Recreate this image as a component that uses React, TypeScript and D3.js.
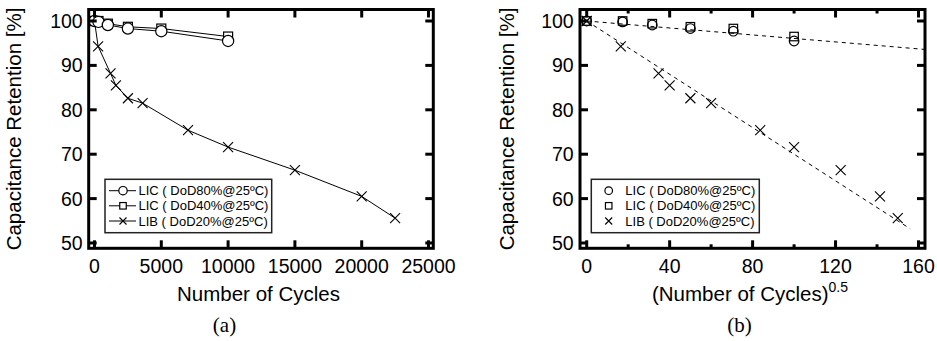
import React from 'react';
import * as d3 from 'd3';

// ---- data ----
const licCycles = [0, 300, 1000, 2500, 5000, 10000];
const lic80 = [100, 99.8, 99.1, 98.3, 97.7, 95.5];
const lic40 = [100, 100, 99.4, 98.7, 98.3, 96.5];
const libCycles = [0, 270, 1200, 1600, 2500, 3600, 7000, 10000, 15000, 20000, 22500];
const lib20 = [100, 94.3, 88.2, 85.5, 82.6, 81.5, 75.4, 71.6, 66.4, 60.5, 55.6];
const xTicksA = [0, 5000, 10000, 15000, 20000, 25000];
const xTicksB = [0, 40, 80, 120, 160];
const xMinorB = [20, 60, 100, 140];
const yTicks = [50, 60, 70, 80, 90, 100];
const legendLabels = ['LIC ( DoD80%@25ºC)', 'LIC ( DoD40%@25ºC)', 'LIB ( DoD20%@25ºC)'];
const fitLicX = [0, 163];
const fitLicY = [100, 93.6];
const fitLibX = [0, 156];
const fitLibY = [100, 53.2];

const FONT = '"Liberation Sans", Arial, sans-serif';
const SERIF = '"Liberation Serif", "Times New Roman", serif';

const yScale = d3.scaleLinear().domain([50, 100]).range([243, 21]);
const xA = d3.scaleLinear().domain([0, 25000]).range([94.5, 428.5]);
const xB = d3.scaleLinear().domain([0, 160]).range([586.7, 918.5]);

const frameTop = 9.5;
const frameBottom = 248.3;

type MProps = { x: number; y: number; s: number; fill?: string; sw?: number };
const Circle = ({ x, y, s, fill = 'none', sw = 1.2 }: MProps) => (
  <circle cx={x} cy={y} r={s} fill={fill} stroke="#000" strokeWidth={sw} />
);
const Square = ({ x, y, s, fill = 'none', sw = 1.2 }: MProps) => (
  <rect x={x - s / 2} y={y - s / 2} width={s} height={s} fill={fill} stroke="#000" strokeWidth={sw} />
);
const Cross = ({ x, y, s, sw = 1.1 }: MProps) => (
  <path d={`M${x - s},${y - s}L${x + s},${y + s}M${x - s},${y + s}L${x + s},${y - s}`} stroke="#000" strokeWidth={sw} fill="none" />
);

function Frame({ left, right, xs, xticks, minor }: { left: number; right: number; xs: d3.ScaleLinear<number, number>; xticks: number[]; minor?: number[] }) {
  const L = 8;
  const l = 4;
  return (
    <g>
      <rect x={left} y={frameTop} width={right - left} height={frameBottom - frameTop} fill="none" stroke="#000" strokeWidth={3} />
      {xticks.map((t) => (
        <g key={'x' + t}>
          <line x1={xs(t)} x2={xs(t)} y1={frameBottom} y2={frameBottom - L} stroke="#000" strokeWidth={3} />
          <line x1={xs(t)} x2={xs(t)} y1={frameTop} y2={frameTop + L} stroke="#000" strokeWidth={3} />
        </g>
      ))}
      {(minor || []).map((t) => (
        <g key={'m' + t}>
          <line x1={xs(t)} x2={xs(t)} y1={frameBottom} y2={frameBottom - l} stroke="#000" strokeWidth={3} />
          <line x1={xs(t)} x2={xs(t)} y1={frameTop} y2={frameTop + l} stroke="#000" strokeWidth={3} />
        </g>
      ))}
      {yTicks.map((t) => (
        <g key={'y' + t}>
          <line x1={left} x2={left + L} y1={yScale(t)} y2={yScale(t)} stroke="#000" strokeWidth={3} />
          <line x1={right} x2={right - L} y1={yScale(t)} y2={yScale(t)} stroke="#000" strokeWidth={3} />
        </g>
      ))}
    </g>
  );
}

export default function App() {
  const lineA = (xsData: number[], ys: number[]) =>
    d3.line<number>().x((_, i) => xA(xsData[i])).y((d) => yScale(d))(ys) || '';
  const lineB = (xsData: number[], ys: number[]) =>
    d3.line<number>().x((_, i) => xB(xsData[i])).y((d) => yScale(d))(ys) || '';

  const rowsY = [190.7, 205.8, 221];

  return (
    <svg width={937} height={341} style={{ position: 'absolute', left: 0, top: 0, background: '#fff' }} fontFamily={FONT}>
      <rect x={0} y={0} width={937} height={341} fill="#fff" />
      {/* ---------- Panel (a) ---------- */}
      <g>
        <path d={lineA(libCycles, lib20)} fill="none" stroke="#000" strokeWidth={1} />
        {libCycles.map((c, i) => (
          <Cross key={'la' + i} x={xA(c)} y={yScale(lib20[i])} s={5} />
        ))}
        <path d={lineA(licCycles, lic40)} fill="none" stroke="#000" strokeWidth={1} />
        {licCycles.map((c, i) => (
          <Square key={'sa' + i} x={xA(c)} y={yScale(lic40[i])} s={9} fill="#fff" />
        ))}
        <path d={lineA(licCycles, lic80)} fill="none" stroke="#000" strokeWidth={1} />
        {licCycles.map((c, i) => (
          <Circle key={'ca' + i} x={xA(c)} y={yScale(lic80[i])} s={5.6} fill="#fff" />
        ))}
        <Frame left={88.7} right={433.3} xs={xA} xticks={xTicksA} />
        {xTicksA.map((t) => (
          <text key={'xla' + t} x={xA(t)} y={272.6} fontSize={19.5} textAnchor="middle">{t}</text>
        ))}
        {yTicks.map((t) => (
          <text key={'yla' + t} x={82.7} y={yScale(t) + 7} fontSize={19.5} textAnchor="end">{t}</text>
        ))}
        <text x={258.5} y={300.5} fontSize={20.5} textAnchor="middle">Number of Cycles</text>
        <text x={224.5} y={332} fontSize={21} textAnchor="middle" fontFamily={SERIF}>(a)</text>
        <text transform="translate(20.5,129) rotate(-90)" fontSize={20.5} textAnchor="middle">Capacitance Retention [%]</text>
        {/* legend */}
        <rect x={105} y={179.3} width={166.7} height={53.4} fill="#fff" stroke="#222" strokeWidth={1.5} />
        {legendLabels.map((lab, i) => (
          <g key={'lga' + i}>
            <line x1={109} x2={136} y1={rowsY[i]} y2={rowsY[i]} stroke="#000" strokeWidth={1} />
            {i === 0 && <Circle x={123} y={rowsY[i]} s={4.2} fill="#fff" />}
            {i === 1 && <Square x={123} y={rowsY[i]} s={6.5} fill="#fff" />}
            {i === 2 && <Cross x={123} y={rowsY[i]} s={3.5} fill="#fff" />}
            <text x={138.5} y={rowsY[i] + 4.6} fontSize={13}>{lab}</text>
          </g>
        ))}
      </g>

      {/* ---------- Panel (b) ---------- */}
      <g>
        <path d={lineB(fitLicX, fitLicY)} fill="none" stroke="#000" strokeWidth={1} strokeDasharray="4,4" />
        <path d={lineB(fitLibX, fitLibY)} fill="none" stroke="#000" strokeWidth={1} strokeDasharray="4,4" />
        {libCycles.map((c, i) => (
          <Cross key={'lb' + i} x={xB(Math.sqrt(c))} y={yScale(lib20[i])} s={5} />
        ))}
        {licCycles.map((c, i) => (
          <Square key={'sb' + i} x={xB(Math.sqrt(c))} y={yScale(lic40[i])} s={8.5} />
        ))}
        {licCycles.map((c, i) => (
          <Circle key={'cb' + i} x={xB(Math.sqrt(c))} y={yScale(lic80[i])} s={4.8} />
        ))}
        <Frame left={580} right={925} xs={xB} xticks={xTicksB} minor={xMinorB} />
        {xTicksB.map((t) => (
          <text key={'xlb' + t} x={xB(t)} y={272.6} fontSize={19.5} textAnchor="middle">{t}</text>
        ))}
        {yTicks.map((t) => (
          <text key={'ylb' + t} x={573.7} y={yScale(t) + 7} fontSize={19.5} textAnchor="end">{t}</text>
        ))}
        <text x={750} y={300.5} fontSize={20.5} textAnchor="middle">
          <tspan>(Number of Cycles)</tspan>
          <tspan fontSize={14} dy={-9}>0.5</tspan>
        </text>
        <text x={739.5} y={332} fontSize={21} textAnchor="middle" fontFamily={SERIF}>(b)</text>
        <text transform="translate(514,129) rotate(-90)" fontSize={20.5} textAnchor="middle">Capacitance Retention [%]</text>
        {/* legend */}
        <rect x={591.3} y={179.3} width={168} height={53.4} fill="#fff" stroke="#222" strokeWidth={1.5} />
        {legendLabels.map((lab, i) => (
          <g key={'lgb' + i}>
            {i === 0 && <Circle x={608.7} y={rowsY[i]} s={3.8} />}
            {i === 1 && <Square x={608.7} y={rowsY[i]} s={6.5} />}
            {i === 2 && <Cross x={608.7} y={rowsY[i]} s={3.5} />}
            <text x={625.3} y={rowsY[i] + 4.6} fontSize={13}>{lab}</text>
          </g>
        ))}
      </g>
    </svg>
  );
}
